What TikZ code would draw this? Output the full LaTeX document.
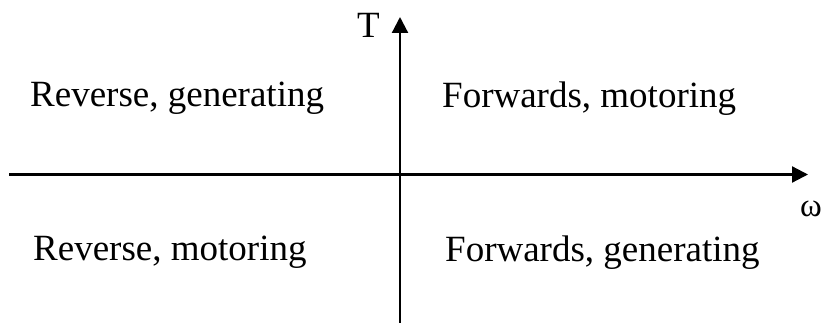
\documentclass[tikz,border=0pt]{standalone}
\usepackage{fontspec}
\setmainfont{Liberation Serif}
\usetikzlibrary{arrows.meta}
\begin{document}
\begin{tikzpicture}[x=1pt,y=-1pt,
  lbl/.style={anchor=base west,inner sep=0pt,font=\fontsize{37}{44}\selectfont},
  axis/.style={line width=2.2pt,-{Triangle[length=16pt,width=16pt]}}]
\useasboundingbox (0,0) rectangle (826,323);
\coordinate (xl) at (9,174.5);
\coordinate (xr) at (808,174.5);
\coordinate (yb) at (400,323);
\coordinate (yt) at (400,17);
\draw[axis] (xl) -- (xr);
\draw[axis] (yb) -- (yt);
\node[lbl] (rg) at (30,107) {Reverse, generating};
\node[lbl] (fm) at (442,108) {Forwards, motoring};
\node[lbl] (rm) at (33,260) {Reverse, motoring};
\node[lbl] (fg) at (445,261) {Forwards, generating};
\node[lbl] (T) at (357,38) {T};
\node[lbl,font=\fontsize{33}{40}\selectfont] (w) at (800,216) {ω};
\end{tikzpicture}
\end{document}
